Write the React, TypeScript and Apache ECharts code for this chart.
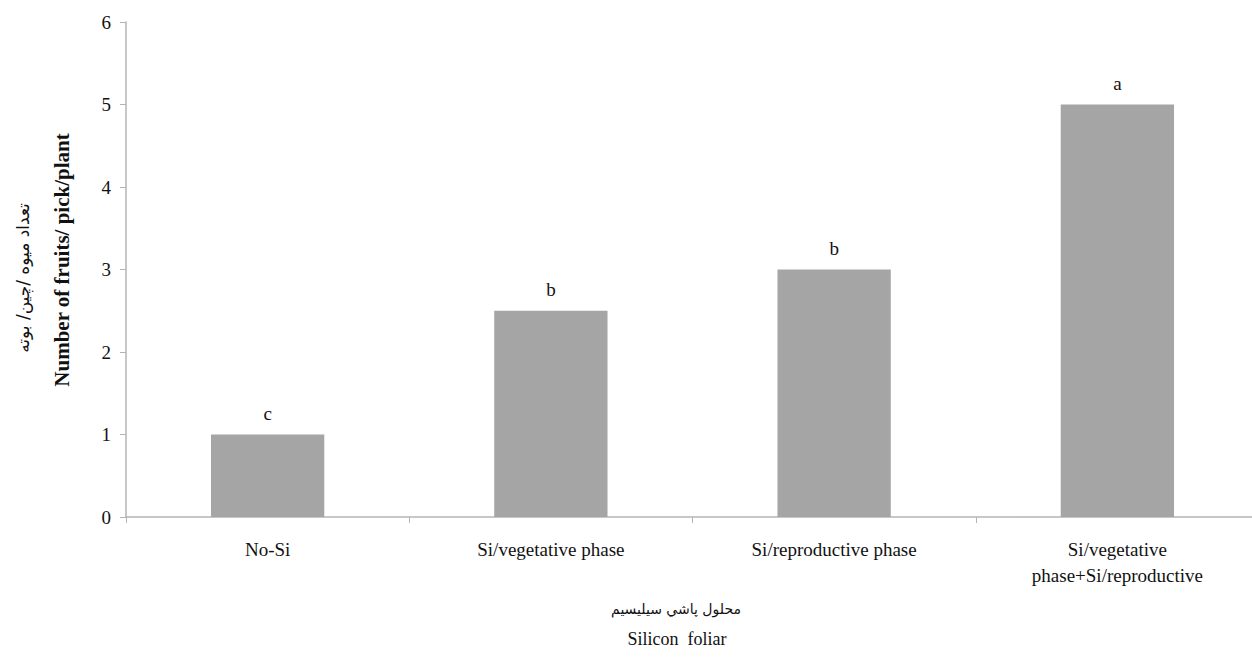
import React, { useEffect, useRef } from "react";
import * as echarts from "echarts";

const categories = [
  "No-Si",
  "Si/vegetative phase",
  "Si/reproductive phase",
  "Si/vegetative\nphase+Si/reproductive",
];
const values = [1, 2.5, 3, 5];
const letters = ["c", "b", "b", "a"];
const yTicks = [0, 1, 2, 3, 4, 5, 6];

const serif = "'Liberation Serif', 'Times New Roman', serif";
const persianFont = "'DejaVu Sans', sans-serif";

export default function App() {
  const ref = useRef<HTMLDivElement>(null);
  useEffect(() => {
    if (!ref.current) return;
    const chart = echarts.init(ref.current, undefined, { renderer: "svg" });
    chart.setOption({
      animation: false,
      backgroundColor: "#ffffff",
      grid: { left: 126, top: 22, right: 3, bottom: 140 },
      xAxis: {
        type: "category",
        data: categories,
        axisLine: { lineStyle: { color: "#b4b4b4", width: 1.5 } },
        axisTick: { show: true, length: 6, lineStyle: { color: "#b4b4b4" } },
        axisLabel: {
          color: "#111",
          fontFamily: serif,
          fontSize: 19,
          margin: 19,
          lineHeight: 26,
          interval: 0,
        },
      },
      yAxis: {
        type: "value",
        min: yTicks[0],
        max: yTicks[yTicks.length - 1],
        interval: 1,
        axisLine: { show: true, lineStyle: { color: "#b4b4b4", width: 1.5 } },
        axisTick: { show: true, length: 6, lineStyle: { color: "#b4b4b4" } },
        splitLine: { show: false },
        axisLabel: { color: "#111", fontFamily: serif, fontSize: 19, margin: 15 },
      },
      series: [
        {
          type: "bar",
          data: values,
          barWidth: "40%",
          itemStyle: { color: "#a5a5a5" },
          label: {
            show: true,
            position: "top",
            distance: 12,
            color: "#111",
            fontFamily: serif,
            fontSize: 19,
            formatter: (p: any) => letters[p.dataIndex],
          },
        },
      ],
      graphic: [
        {
          type: "text",
          x: 62,
          y: 260,
          rotation: Math.PI / 2,
          style: {
            text: "Number of fruits/ pick/plant",
            fontFamily: serif,
            fontSize: 21,
            fontWeight: "bold",
            fill: "#111",
            align: "center",
            verticalAlign: "middle",
          },
        },
        {
          type: "text",
          x: 23,
          y: 278,
          rotation: Math.PI / 2,
          style: {
            text: "تعداد میوه /چین/ بوته",
            fontFamily: persianFont,
            fontSize: 17,
            fill: "#111",
            align: "center",
            verticalAlign: "middle",
          },
        },
        {
          type: "text",
          x: 676,
          y: 609,
          style: {
            text: "محلول پاشي سيليسيم",
            fontFamily: persianFont,
            fontSize: 14,
            fill: "#111",
            align: "center",
            verticalAlign: "middle",
          },
        },
        {
          type: "text",
          x: 677,
          y: 639,
          style: {
            text: "Silicon  foliar",
            fontFamily: serif,
            fontSize: 18,
            fill: "#111",
            align: "center",
            verticalAlign: "middle",
          },
        },
      ],
    });
    return () => chart.dispose();
  }, []);
  return (
    <div
      ref={ref}
      style={{ position: "fixed", left: 0, top: 0, width: 1262, height: 657 }}
    />
  );
}
